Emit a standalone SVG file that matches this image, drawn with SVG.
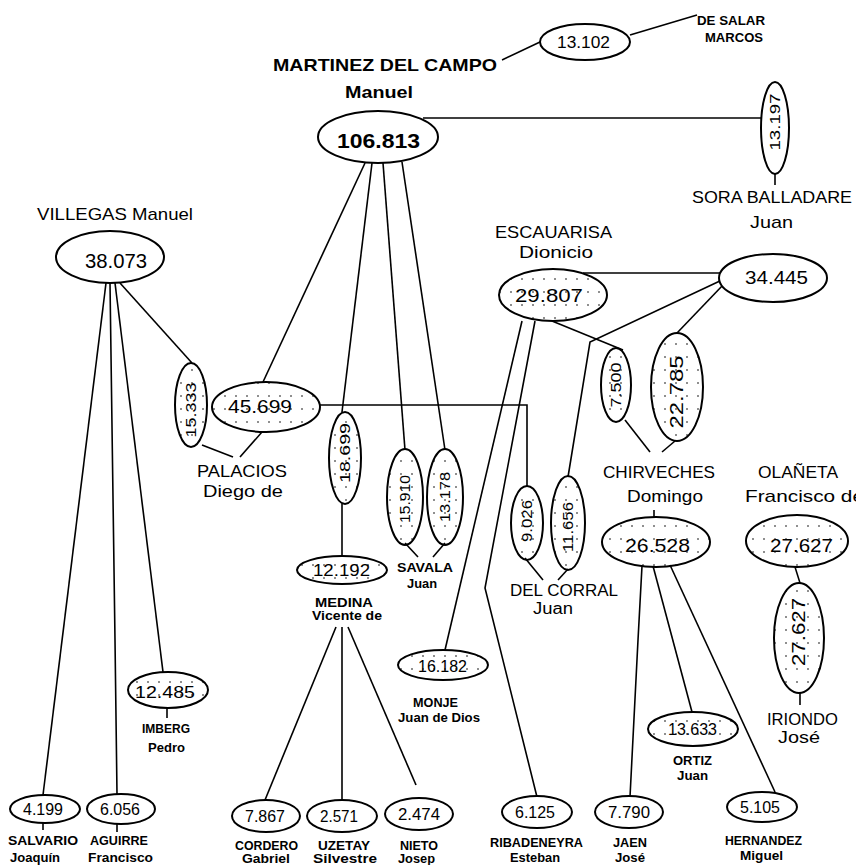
<svg xmlns="http://www.w3.org/2000/svg" width="856" height="865" viewBox="0 0 856 865">
<defs>
<pattern id="dots" width="11" height="13" patternUnits="userSpaceOnUse">
<circle cx="5" cy="6" r="0.8" fill="#000"/>
</pattern>
<style>
.e{fill:#fff;stroke:#000;stroke-width:2}
.d{fill:url(#dots);stroke:#000;stroke-width:2}
.c line,.c polyline{stroke:#000;stroke-width:1.6;fill:none}
text{font-family:"Liberation Sans",Arial,sans-serif;fill:#000}
.num{font-size:17px}
.vn{font-size:15px}
.big{font-size:17px}
.sm{font-size:12px;font-weight:bold}
.b{font-weight:bold}
</style>
</defs>
<rect width="856" height="865" fill="#fff"/>

<g id="connectors" class="c">
<line x1="502" y1="60" x2="540" y2="42"/>
<line x1="630" y1="35" x2="697" y2="15"/>
<line x1="423" y1="118" x2="762" y2="118"/>
<line x1="775" y1="173" x2="775" y2="185"/>
<line x1="365" y1="163" x2="263" y2="382"/>
<line x1="372" y1="163" x2="342" y2="412"/>
<line x1="383" y1="163" x2="405" y2="450"/>
<line x1="402" y1="162" x2="445" y2="450"/>
<line x1="120" y1="283" x2="192" y2="363"/>
<line x1="106" y1="283" x2="43" y2="795"/>
<polyline points="110,283 115,640 117,794"/>
<line x1="115" y1="283" x2="163" y2="672"/>
<line x1="202" y1="445" x2="233" y2="457"/>
<line x1="262" y1="432" x2="240" y2="457"/>
<polyline points="320,405 527,405 527,487"/>
<line x1="342" y1="504" x2="342" y2="557"/>
<line x1="405" y1="543" x2="418" y2="557"/>
<line x1="445" y1="543" x2="433" y2="557"/>
<line x1="336" y1="627" x2="265" y2="800"/>
<line x1="342" y1="627" x2="342" y2="800"/>
<line x1="348" y1="627" x2="416" y2="785"/>
<line x1="522" y1="321" x2="445" y2="650"/>
<polyline points="535,321 485,588 537,797"/>
<line x1="583" y1="273" x2="720" y2="273"/>
<polyline points="722,280 590,342 568,477"/>
<line x1="723" y1="285" x2="677" y2="333"/>
<line x1="552" y1="321" x2="623" y2="350"/>
<line x1="625" y1="420" x2="650" y2="452"/>
<line x1="675" y1="441" x2="662" y2="452"/>
<line x1="525" y1="558" x2="543" y2="580"/>
<line x1="568" y1="569" x2="558" y2="580"/>
<line x1="654" y1="510" x2="654" y2="518"/>
<polyline points="642,566 638,640 630,797"/>
<line x1="653" y1="566" x2="692" y2="712"/>
<line x1="670" y1="565" x2="775" y2="792"/>
<line x1="795" y1="567" x2="800" y2="583"/>
<line x1="800" y1="693" x2="800" y2="705"/>
<line x1="43" y1="823" x2="43" y2="830"/>
<line x1="117" y1="824" x2="117" y2="832"/>
<line x1="167" y1="708" x2="167" y2="718"/>
</g>

<g id="martinez">
<text class="b" x="273" y="71" font-size="17" textLength="224" lengthAdjust="spacingAndGlyphs">MARTINEZ DEL CAMPO</text>
<text class="b" x="345" y="98" font-size="17" textLength="68" lengthAdjust="spacingAndGlyphs">Manuel</text>
<ellipse class="e" cx="378" cy="137" rx="60" ry="26" stroke-width="2.6"/>
<text class="b" x="337" y="148" font-size="20" textLength="83" lengthAdjust="spacingAndGlyphs">106.813</text>
</g>

<g id="n13102">
<ellipse class="e" cx="585" cy="42" rx="45" ry="18"/>
<text class="num" x="557" y="48" textLength="53" lengthAdjust="spacingAndGlyphs">13.102</text>
</g>

<g id="desalar">
<text class="sm" x="697" y="25" font-size="13" textLength="68" lengthAdjust="spacingAndGlyphs">DE SALAR</text>
<text class="sm" x="705" y="42" font-size="13" textLength="58" lengthAdjust="spacingAndGlyphs">MARCOS</text>
</g>

<g id="sora">
<ellipse class="e" cx="775" cy="128" rx="14" ry="46"/>
<text class="vn" transform="translate(780,122) rotate(-90)" text-anchor="middle" textLength="57" lengthAdjust="spacingAndGlyphs">13.197</text>
<text class="big" x="692" y="203" textLength="160" lengthAdjust="spacingAndGlyphs">SORA BALLADARE</text>
<text class="big" x="750" y="228" textLength="43" lengthAdjust="spacingAndGlyphs">Juan</text>
</g>

<g id="villegas">
<text class="big" x="37" y="220" textLength="156" lengthAdjust="spacingAndGlyphs">VILLEGAS Manuel</text>
<ellipse class="e" cx="110" cy="257" rx="54" ry="26"/>
<text x="85" y="268" font-size="20" textLength="62" lengthAdjust="spacingAndGlyphs">38.073</text>
</g>

<g id="n15333">
<ellipse class="d" cx="191" cy="405" rx="16" ry="42"/>
<text class="vn" transform="translate(196,410) rotate(-90)" text-anchor="middle" textLength="55" lengthAdjust="spacingAndGlyphs">15.333</text>
</g>

<g id="palacios">
<ellipse class="d" cx="266" cy="407" rx="54" ry="25"/>
<text x="228" y="413" font-size="18" textLength="64" lengthAdjust="spacingAndGlyphs">45.699</text>
<text class="big" x="197" y="477" textLength="90" lengthAdjust="spacingAndGlyphs">PALACIOS</text>
<text class="big" x="203" y="497" textLength="80" lengthAdjust="spacingAndGlyphs">Diego de</text>
</g>

<g id="medina">
<ellipse class="d" cx="345" cy="458" rx="16" ry="46"/>
<text class="vn" transform="translate(350,453) rotate(-90)" text-anchor="middle" textLength="60" lengthAdjust="spacingAndGlyphs">18.699</text>
<ellipse class="d" cx="342" cy="570" rx="45" ry="14"/>
<text x="313" y="576" font-size="16" textLength="57" lengthAdjust="spacingAndGlyphs">12.192</text>
<text class="sm" x="315" y="607" font-size="14" textLength="58" lengthAdjust="spacingAndGlyphs">MEDINA</text>
<text class="sm" x="312" y="620" font-size="13" textLength="70" lengthAdjust="spacingAndGlyphs">Vicente de</text>
</g>

<g id="savala">
<ellipse class="d" cx="405" cy="497" rx="18" ry="48"/>
<text class="vn" transform="translate(410,499) rotate(-90)" text-anchor="middle" textLength="48" lengthAdjust="spacingAndGlyphs">15.910</text>
<ellipse class="d" cx="445" cy="497" rx="18" ry="48"/>
<text class="vn" transform="translate(450,497) rotate(-90)" text-anchor="middle" textLength="50" lengthAdjust="spacingAndGlyphs">13.178</text>
<text class="sm" x="397" y="572" textLength="56" lengthAdjust="spacingAndGlyphs">SAVALA</text>
<text class="sm" x="407" y="588" textLength="30" lengthAdjust="spacingAndGlyphs">Juan</text>
</g>

<g id="escauarisa">
<text class="big" x="495" y="238" textLength="117" lengthAdjust="spacingAndGlyphs">ESCAUARISA</text>
<text class="big" x="519" y="258" textLength="74" lengthAdjust="spacingAndGlyphs">Dionicio</text>
<ellipse class="d" cx="553" cy="295" rx="54" ry="26"/>
<text x="515" y="302" font-size="19" textLength="68" lengthAdjust="spacingAndGlyphs">29.807</text>
</g>

<g id="n34445">
<ellipse class="e" cx="773" cy="278" rx="54" ry="24"/>
<text x="745" y="284" font-size="19" textLength="63" lengthAdjust="spacingAndGlyphs">34.445</text>
</g>

<g id="delcorral">
<ellipse class="d" cx="527" cy="523" rx="16" ry="37"/>
<text class="vn" transform="translate(532,521) rotate(-90)" text-anchor="middle" textLength="42" lengthAdjust="spacingAndGlyphs">9.026</text>
<ellipse class="d" cx="568" cy="523" rx="17" ry="47"/>
<text class="vn" transform="translate(573,527) rotate(-90)" text-anchor="middle" textLength="50" lengthAdjust="spacingAndGlyphs">11.656</text>
<text x="510" y="596" font-size="16" textLength="108" lengthAdjust="spacingAndGlyphs">DEL CORRAL</text>
<text x="533" y="614" font-size="16" textLength="40" lengthAdjust="spacingAndGlyphs">Juan</text>
</g>

<g id="chirveches">
<ellipse class="d" cx="616" cy="385" rx="15" ry="37"/>
<text class="vn" transform="translate(621,385) rotate(-90)" text-anchor="middle" textLength="45" lengthAdjust="spacingAndGlyphs">7.500</text>
<ellipse class="d" cx="677" cy="387" rx="26" ry="54"/>
<text x="0" y="0" font-size="18" transform="translate(683,392) rotate(-90)" text-anchor="middle" textLength="73" lengthAdjust="spacingAndGlyphs">22.785</text>
<text class="big" x="603" y="478" textLength="112" lengthAdjust="spacingAndGlyphs">CHIRVECHES</text>
<text class="big" x="627" y="502" textLength="76" lengthAdjust="spacingAndGlyphs">Domingo</text>
<ellipse class="d" cx="656" cy="542" rx="54" ry="25"/>
<text x="625" y="552" font-size="19" textLength="65" lengthAdjust="spacingAndGlyphs">26.528</text>
</g>

<g id="olaneta">
<text class="big" x="758" y="478" textLength="80" lengthAdjust="spacingAndGlyphs">OLAÑETA</text>
<text class="big" x="745" y="502" textLength="119" lengthAdjust="spacingAndGlyphs">Francisco de</text>
<ellipse class="d" cx="797" cy="541" rx="51" ry="26"/>
<text x="770" y="552" font-size="19" textLength="63" lengthAdjust="spacingAndGlyphs">27.627</text>
</g>

<g id="iriondo">
<ellipse class="d" cx="799" cy="638" rx="25" ry="55"/>
<text x="0" y="0" font-size="18" transform="translate(805,632) rotate(-90)" text-anchor="middle" textLength="68" lengthAdjust="spacingAndGlyphs">27.627</text>
<text class="big" x="767" y="725" textLength="71" lengthAdjust="spacingAndGlyphs">IRIONDO</text>
<text class="big" x="778" y="743" textLength="42" lengthAdjust="spacingAndGlyphs">José</text>
</g>

<g id="monje">
<ellipse class="d" cx="443" cy="665" rx="45" ry="15"/>
<text x="418" y="672" font-size="16" textLength="49" lengthAdjust="spacingAndGlyphs">16.182</text>
<text class="sm" x="413" y="707" textLength="45" lengthAdjust="spacingAndGlyphs">MONJE</text>
<text class="sm" x="398" y="722" textLength="82" lengthAdjust="spacingAndGlyphs">Juan de Dios</text>
</g>

<g id="imberg">
<ellipse class="d" cx="168" cy="690" rx="40" ry="18"/>
<text x="135" y="698" font-size="17" textLength="60" lengthAdjust="spacingAndGlyphs">12.485</text>
<text class="sm" x="142" y="733" textLength="48" lengthAdjust="spacingAndGlyphs">IMBERG</text>
<text class="sm" x="148" y="752" textLength="37" lengthAdjust="spacingAndGlyphs">Pedro</text>
</g>

<g id="ortiz">
<ellipse class="d" cx="693" cy="729" rx="45" ry="17"/>
<text x="668" y="735" font-size="16" textLength="49" lengthAdjust="spacingAndGlyphs">13.633</text>
<text class="sm" x="673" y="765" textLength="39" lengthAdjust="spacingAndGlyphs">ORTIZ</text>
<text class="sm" x="677" y="780" textLength="31" lengthAdjust="spacingAndGlyphs">Juan</text>
</g>

<g id="salvario">
<ellipse class="e" cx="45" cy="809" rx="35" ry="14"/>
<text class="num" x="23" y="815" textLength="40" lengthAdjust="spacingAndGlyphs">4.199</text>
<text class="sm" x="8" y="845" textLength="70" lengthAdjust="spacingAndGlyphs">SALVARIO</text>
<text class="sm" x="10" y="862" textLength="50" lengthAdjust="spacingAndGlyphs">Joaquín</text>
</g>

<g id="aguirre">
<ellipse class="e" cx="121" cy="809" rx="34" ry="15"/>
<text class="num" x="100" y="815" textLength="40" lengthAdjust="spacingAndGlyphs">6.056</text>
<text class="sm" x="90" y="845" textLength="58" lengthAdjust="spacingAndGlyphs">AGUIRRE</text>
<text class="sm" x="88" y="862" textLength="65" lengthAdjust="spacingAndGlyphs">Francisco</text>
</g>

<g id="cordero">
<ellipse class="e" cx="266" cy="816" rx="34" ry="16"/>
<text class="num" x="245" y="822" textLength="40" lengthAdjust="spacingAndGlyphs">7.867</text>
<text class="sm" x="235" y="850" textLength="63" lengthAdjust="spacingAndGlyphs">CORDERO</text>
<text class="sm" x="242" y="863" textLength="48" lengthAdjust="spacingAndGlyphs">Gabriel</text>
</g>

<g id="uzetay">
<ellipse class="e" cx="342" cy="816" rx="35" ry="16"/>
<text class="num" x="320" y="822" textLength="38" lengthAdjust="spacingAndGlyphs">2.571</text>
<text class="sm" x="318" y="850" textLength="52" lengthAdjust="spacingAndGlyphs">UZETAY</text>
<text class="sm" x="313" y="863" textLength="64" lengthAdjust="spacingAndGlyphs">Silvestre</text>
</g>

<g id="nieto">
<ellipse class="e" cx="419" cy="814" rx="34" ry="16"/>
<text class="num" x="398" y="820" textLength="42" lengthAdjust="spacingAndGlyphs">2.474</text>
<text class="sm" x="400" y="850" textLength="38" lengthAdjust="spacingAndGlyphs">NIETO</text>
<text class="sm" x="398" y="863" textLength="37" lengthAdjust="spacingAndGlyphs">Josep</text>
</g>

<g id="ribadeneyra">
<ellipse class="e" cx="537" cy="812" rx="35" ry="16"/>
<text class="num" x="515" y="818" textLength="40" lengthAdjust="spacingAndGlyphs">6.125</text>
<text class="sm" x="490" y="847" textLength="93" lengthAdjust="spacingAndGlyphs">RIBADENEYRA</text>
<text class="sm" x="510" y="862" textLength="50" lengthAdjust="spacingAndGlyphs">Esteban</text>
</g>

<g id="jaen">
<ellipse class="e" cx="629" cy="812" rx="34" ry="16"/>
<text class="num" x="608" y="818" textLength="42" lengthAdjust="spacingAndGlyphs">7.790</text>
<text class="sm" x="613" y="847" textLength="34" lengthAdjust="spacingAndGlyphs">JAEN</text>
<text class="sm" x="615" y="862" textLength="30" lengthAdjust="spacingAndGlyphs">José</text>
</g>

<g id="hernandez">
<ellipse class="e" cx="762" cy="807" rx="35" ry="15"/>
<text class="num" x="740" y="813" textLength="40" lengthAdjust="spacingAndGlyphs">5.105</text>
<text class="sm" x="725" y="845" textLength="77" lengthAdjust="spacingAndGlyphs">HERNANDEZ</text>
<text class="sm" x="740" y="860" textLength="43" lengthAdjust="spacingAndGlyphs">Miguel</text>
</g>
</svg>
